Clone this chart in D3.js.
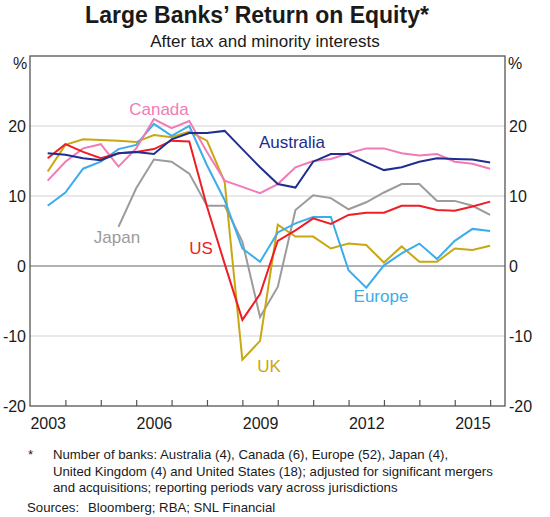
<!DOCTYPE html>
<html>
<head>
<meta charset="utf-8">
<script src="https://cdn.jsdelivr.net/npm/d3@7/dist/d3.min.js"></script>
<style>
  body { margin: 0; background: #fff; }
  text { font-family: Arial, "Liberation Sans", sans-serif; fill: #1a1a1a; }
</style>
</head>
<body>
<div id="chart"></div>
<script>
// Half-yearly observations (Jun and Dec), as decimal years
var periods = [2003.5, 2004.0, 2004.5, 2005.0, 2005.5, 2006.0, 2006.5, 2007.0, 2007.5,
    2008.0, 2008.5, 2009.0, 2009.5, 2010.0, 2010.5, 2011.0, 2011.5, 2012.0, 2012.5,
    2013.0, 2013.5, 2014.0, 2014.5, 2015.0, 2015.5, 2016.0];

// Return on equity, per cent
var australia = [16.1, 15.9, 15.4, 15.1, 16.1, 16.3, 16.0, 18.1, 19.0, 19.0, 19.3, 16.7, 14.1,
    11.7, 11.2, 14.9, 16.0, 16.0, 14.8, 13.7, 14.1, 14.9, 15.4, 15.3, 15.2, 14.8];
var canada = [12.2, 14.9, 16.8, 17.4, 14.2, 16.8, 21.0, 19.7, 20.7, 16.3, 12.2, 11.3, 10.4,
    11.7, 14.1, 15.0, 15.3, 16.1, 16.8, 16.8, 16.1, 15.8, 16.0, 14.9, 14.6, 13.9];
var europe = [8.6, 10.5, 13.9, 14.9, 16.7, 17.3, 20.3, 18.6, 20.0, 14.4, 9.4, 2.5, 0.6,
    4.8, 6.1, 7.0, 7.0, -0.6, -3.1, 0.1, 1.8, 3.2, 1.0, 3.6, 5.3, 5.0];
var japan = [null, null, null, null, 5.6, 11.1, 15.2, 14.9, 13.2, 8.6, 8.6, 3.5, -7.3,
    -3.0, 8.0, 10.1, 9.7, 8.1, 9.1, 10.5, 11.7, 11.7, 9.3, 9.3, 8.6, 7.3];
var us = [15.4, 17.4, 16.3, 15.4, 16.1, 16.3, 16.7, 17.9, 17.8, 8.5, 0.3, -7.7, -4.0,
    3.6, 5.1, 6.8, 6.0, 7.3, 7.6, 7.6, 8.6, 8.6, 8.0, 7.9, 8.5, 9.2];
var uk = [13.5, 17.3, 18.1, 18.0, 17.9, 17.7, 18.7, 18.4, 19.2, 17.9, 12.0, -13.4, -10.7,
    5.9, 4.2, 4.2, 2.5, 3.2, 3.0, 0.5, 2.8, 0.6, 0.6, 2.5, 2.3, 2.9];

var yTicks = [-20, -10, 0, 10, 20];
var yearTicks = [2004, 2005, 2006, 2007, 2008, 2009, 2010, 2011, 2012, 2013, 2014, 2015, 2016];
var yearLabels = [2003, 2006, 2009, 2012, 2015];

var series = [
    { name: 'Japan', values: japan, color: '#9b9b9b', label: [117, 243] },
    { name: 'UK', values: uk, color: '#c9a710', label: [269, 372] },
    { name: 'Europe', values: europe, color: '#3badea', label: [381, 302] },
    { name: 'Canada', values: canada, color: '#f27ab6', label: [159, 115] },
    { name: 'US', values: us, color: '#ee1d26', label: [201, 254] },
    { name: 'Australia', values: australia, color: '#202e8e', label: [292, 148] }
];

var svgWidth = 550, svgHeight = 517;
var margin = { top: 56, right: 45, bottom: 111, left: 30 };
var width = svgWidth - margin.left - margin.right;
var height = svgHeight - margin.top - margin.bottom;

var svg = d3.select('#chart').append('svg')
    .attr('width', svgWidth)
    .attr('height', svgHeight);

svg.append('rect').attr('width', svgWidth).attr('height', svgHeight).attr('fill', '#fff');

// Titles
svg.append('text')
    .attr('x', 257).attr('y', 23)
    .attr('text-anchor', 'middle')
    .style('font-size', '23px').style('font-weight', 'bold')
    .text('Large Banks’ Return on Equity*');
svg.append('text')
    .attr('x', 265).attr('y', 46.5)
    .attr('text-anchor', 'middle')
    .style('font-size', '17px')
    .text('After tax and minority interests');

var chartGroup = svg.append('g')
    .attr('transform', `translate(${margin.left}, ${margin.top})`);

var x = d3.scaleLinear().domain([2003, 2016.42]).range([0, width]);
var y = d3.scaleLinear().domain([-20, 30]).range([height, 0]);

// Grid lines
chartGroup.selectAll('.grid')
    .data(yTicks.filter(d => d !== 0 && d !== -20))
    .enter()
    .append('line')
    .attr('x1', 0).attr('x2', width)
    .attr('y1', d => y(d)).attr('y2', d => y(d))
    .attr('stroke', '#d4d4d4').attr('stroke-width', 1.2);

// Zero line
chartGroup.append('line')
    .attr('x1', 0).attr('x2', width)
    .attr('y1', y(0)).attr('y2', y(0))
    .attr('stroke', '#666').attr('stroke-width', 1.2);

// Y axis labels left and right (plain hyphen for negatives)
var leftAxis = d3.axisLeft(y).tickValues(yTicks).tickSize(0).tickPadding(4).tickFormat(d => String(d));
var rightAxis = d3.axisRight(y).tickValues(yTicks).tickSize(0).tickPadding(4).tickFormat(d => String(d));
chartGroup.append('g').attr('class', 'yaxis').call(leftAxis);
chartGroup.append('g').attr('class', 'yaxis')
    .attr('transform', `translate(${width}, 0)`).call(rightAxis);

// X axis: ticks at year boundaries, labels in middle of the year
var bottomTicks = d3.axisBottom(x).tickValues(yearTicks).tickSize(-6).tickFormat('');
var bottomLabels = d3.axisBottom(x)
    .tickValues(yearLabels.map(d => d + 0.5))
    .tickSize(0).tickPadding(12)
    .tickFormat(d => Math.floor(d));
chartGroup.append('g').attr('class', 'xticks')
    .attr('transform', `translate(0, ${height})`).call(bottomTicks);
chartGroup.append('g').attr('class', 'xaxis')
    .attr('transform', `translate(0, ${height})`).call(bottomLabels);

chartGroup.selectAll('.domain').remove();
chartGroup.selectAll('.xticks line').attr('stroke', '#555').attr('stroke-width', 1.2);
chartGroup.selectAll('.yaxis text, .xaxis text')
    .style('font-size', '16px')
    .style('font-family', 'Arial, "Liberation Sans", sans-serif')
    .attr('fill', '#1a1a1a');

// Percent units
svg.append('text').attr('x', 20).attr('y', 69).attr('text-anchor', 'middle')
    .style('font-size', '16px').text('%');
svg.append('text').attr('x', 515).attr('y', 69).attr('text-anchor', 'middle')
    .style('font-size', '16px').text('%');

// Lines
var line = d3.line()
    .defined(d => d[1] != null)
    .x(d => x(d[0]))
    .y(d => y(d[1]));

series.forEach(function(s) {
    chartGroup.append('path')
        .datum(periods.map((p, i) => [p, s.values[i]]))
        .attr('d', line)
        .attr('fill', 'none')
        .attr('stroke', s.color)
        .attr('stroke-width', 2)
        .attr('stroke-linejoin', 'miter');
});

// Series labels
series.forEach(function(s) {
    svg.append('text')
        .attr('x', s.label[0]).attr('y', s.label[1])
        .attr('text-anchor', 'middle')
        .style('font-size', '17px')
        .style('fill', s.color)
        .text(s.name);
});

// Frame
chartGroup.append('rect')
    .attr('width', width).attr('height', height)
    .attr('fill', 'none').attr('stroke', '#555').attr('stroke-width', 1.3);

// Footnotes
var notes = [
    'Number of banks: Australia (4), Canada (6), Europe (52), Japan (4),',
    'United Kingdom (4) and United States (18); adjusted for significant mergers',
    'and acquisitions; reporting periods vary across jurisdictions'
];
svg.append('text').attr('x', 28).attr('y', 459).style('font-size', '13.2px').text('*');
svg.selectAll('.note')
    .data(notes)
    .enter()
    .append('text')
    .attr('x', 53)
    .attr('y', (d, i) => 459 + i * 16.5)
    .style('font-size', '13.2px')
    .text(d => d);
svg.append('text').attr('x', 27).attr('y', 512).style('font-size', '13.2px').text('Sources:');
svg.append('text').attr('x', 88).attr('y', 512).style('font-size', '13.2px')
    .text('Bloomberg; RBA; SNL Financial');
</script>
</body>
</html>
